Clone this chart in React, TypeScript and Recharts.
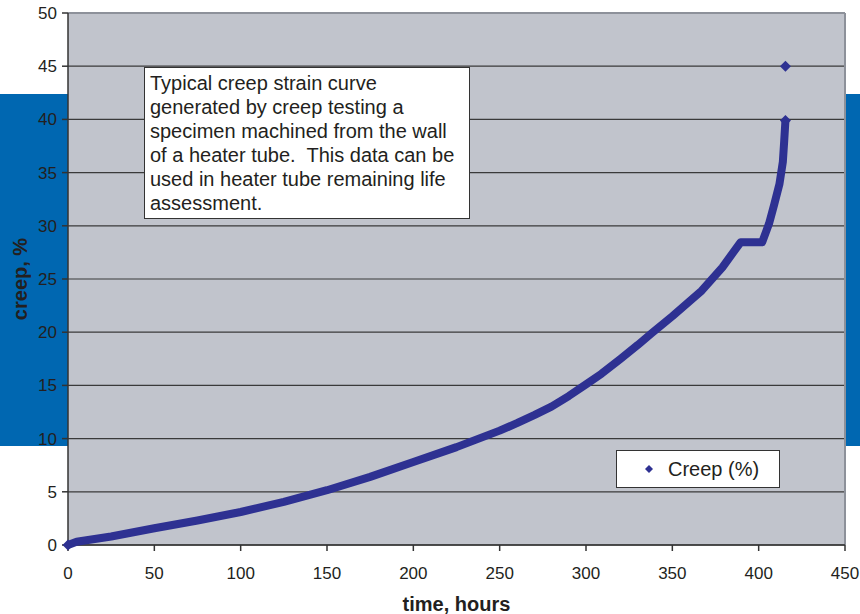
import { ScatterChart, Scatter, XAxis, YAxis, CartesianGrid, Legend, ReferenceLine } from 'recharts';

// creep test readings
const hours = [0, 5, 25, 50, 75, 100, 125, 150, 175, 200, 225, 250, 260, 270, 280, 290, 300, 309, 320, 330, 338, 350, 360, 367, 379, 389.5, 402, 406, 409, 412, 414, 414.8, 415.5];
const creepPct = [0, 0.3, 0.8, 1.57, 2.3, 3.1, 4.06, 5.15, 6.4, 7.8, 9.2, 10.75, 11.45, 12.2, 13.0, 14.0, 15.1, 16.1, 17.5, 18.8, 19.9, 21.5, 22.9, 23.9, 26.1, 28.45, 28.45, 30.2, 32.0, 33.9, 36.0, 38.0, 39.9];

// stray reading above the curve end
const outlierHours = [415.5];
const outlierCreep = [45];

const xTicks = [0, 50, 100, 150, 200, 250, 300, 350, 400, 450];
const yTicks = [0, 5, 10, 15, 20, 25, 30, 35, 40, 45, 50];

const noteLines = [
  'Typical creep strain curve',
  'generated by creep testing a',
  'specimen machined from the wall',
  'of a heater tube.  This data can be',
  'used in heater tube remaining life',
  'assessment.',
];

const curve = hours.map((t, i) => ({ t, creep: creepPct[i] }));
const outliers = outlierHours.map((t, i) => ({ t, creep: outlierCreep[i] }));

const NAVY = '#2E3192';
const INK = '#231F20';
const FONT = '"Liberation Sans", Arial, sans-serif';

function diamond(cx: number, cy: number, r: number, color = NAVY) {
  return <path d={`M${cx},${cy - r}L${cx + r},${cy}L${cx},${cy + r}L${cx - r},${cy}Z`} fill={color} />;
}

// only the two ends of the curve get a visible marker
const curveShape = (props: any) => {
  const t = props.payload?.t;
  if (t === hours[0] || t === hours[hours.length - 1]) return diamond(props.cx, props.cy, 5.5);
  return <g />;
};

const outlierShape = (props: any) => diamond(props.cx, props.cy, 5.5);

const renderLegend = (props: any) => {
  const item = props.payload?.[0];
  return (
    <div
      style={{
        width: 164,
        height: 38,
        boxSizing: 'border-box',
        border: '1px solid #333',
        background: '#fff',
        display: 'flex',
        alignItems: 'center',
        fontFamily: FONT,
        fontSize: 20,
        color: INK,
      }}
    >
      <svg width={10} height={10} style={{ marginLeft: 27, marginRight: 14 }}>
        {diamond(5, 5, 4)}
      </svg>
      <span>{item ? item.value : 'Creep (%)'}</span>
    </div>
  );
};

const yTitle = (props: any) => {
  const vb = props.viewBox || { x: 0, y: 13, width: 68, height: 532 };
  const x = vb.x + 27;
  const y = vb.y + vb.height / 2;
  return (
    <text
      x={x}
      y={y}
      transform={`rotate(-90, ${x}, ${y})`}
      textAnchor="middle"
      fontFamily={FONT}
      fontSize={20}
      fontWeight="bold"
      fill={INK}
    >
      creep, %
    </text>
  );
};

export default function App() {
  return (
    <div style={{ position: 'absolute', left: 0, top: 0, width: 860, height: 614, background: '#fff' }}>
      <div style={{ position: 'absolute', left: 0, top: 94, width: 860, height: 352, background: '#0067B1' }} />
      <div style={{ position: 'absolute', left: 0, top: 0 }}>
        <ScatterChart width={860} height={614} margin={{ top: 13, right: 15, bottom: 0, left: 0 }}>
          <CartesianGrid
            vertical={false}
            fill="#C1C4CC"
            stroke="#3a3a3a"
            strokeWidth={1.2}
            fillOpacity={1}
          />
          <XAxis
            type="number"
            dataKey="t"
            domain={[0, 450]}
            ticks={xTicks}
            height={69}
            tickSize={6}
            tickMargin={16}
            stroke="#333"
            strokeWidth={1.5}
            tick={{ fill: INK, fontSize: 17, fontFamily: FONT }}
            label={{ value: 'time, hours', position: 'insideBottom', offset: 3, fill: INK, fontSize: 20, fontWeight: 'bold', fontFamily: FONT }}
          />
          <YAxis
            type="number"
            dataKey="creep"
            domain={[0, 50]}
            ticks={yTicks}
            width={68}
            tickSize={6}
            tickMargin={5}
            stroke="#333"
            strokeWidth={1.5}
            tick={{ fill: INK, fontSize: 17, fontFamily: FONT }}
            label={{ content: yTitle }}
          />
          <ReferenceLine y={50} stroke="#8D919A" strokeWidth={2} />
          <ReferenceLine x={450} stroke="#8D919A" strokeWidth={2} />
          <Legend layout="horizontal" verticalAlign="middle" content={renderLegend} wrapperStyle={{ left: 616, top: 450, width: 164, height: 38 }} />
          <Scatter
            name="Creep (%)"
            data={curve}
            fill={NAVY}
            line={{ stroke: NAVY, strokeWidth: 8, strokeLinejoin: 'round' }}
            lineType="joint"
            shape={curveShape}
            isAnimationActive={false}
          />
          <Scatter name="outlier" data={outliers} fill={NAVY} shape={outlierShape} legendType="none" isAnimationActive={false} />
        </ScatterChart>
      </div>
      <div
        style={{
          position: 'absolute',
          left: 144,
          top: 67,
          width: 326,
          height: 152,
          boxSizing: 'border-box',
          border: '1px solid #333',
          background: '#fff',
          padding: '3px 0 0 5px',
          fontFamily: FONT,
          fontSize: 20,
          lineHeight: '24px',
          color: INK,
          whiteSpace: 'pre',
        }}
      >
        {noteLines.join('\n')}
      </div>
    </div>
  );
}
